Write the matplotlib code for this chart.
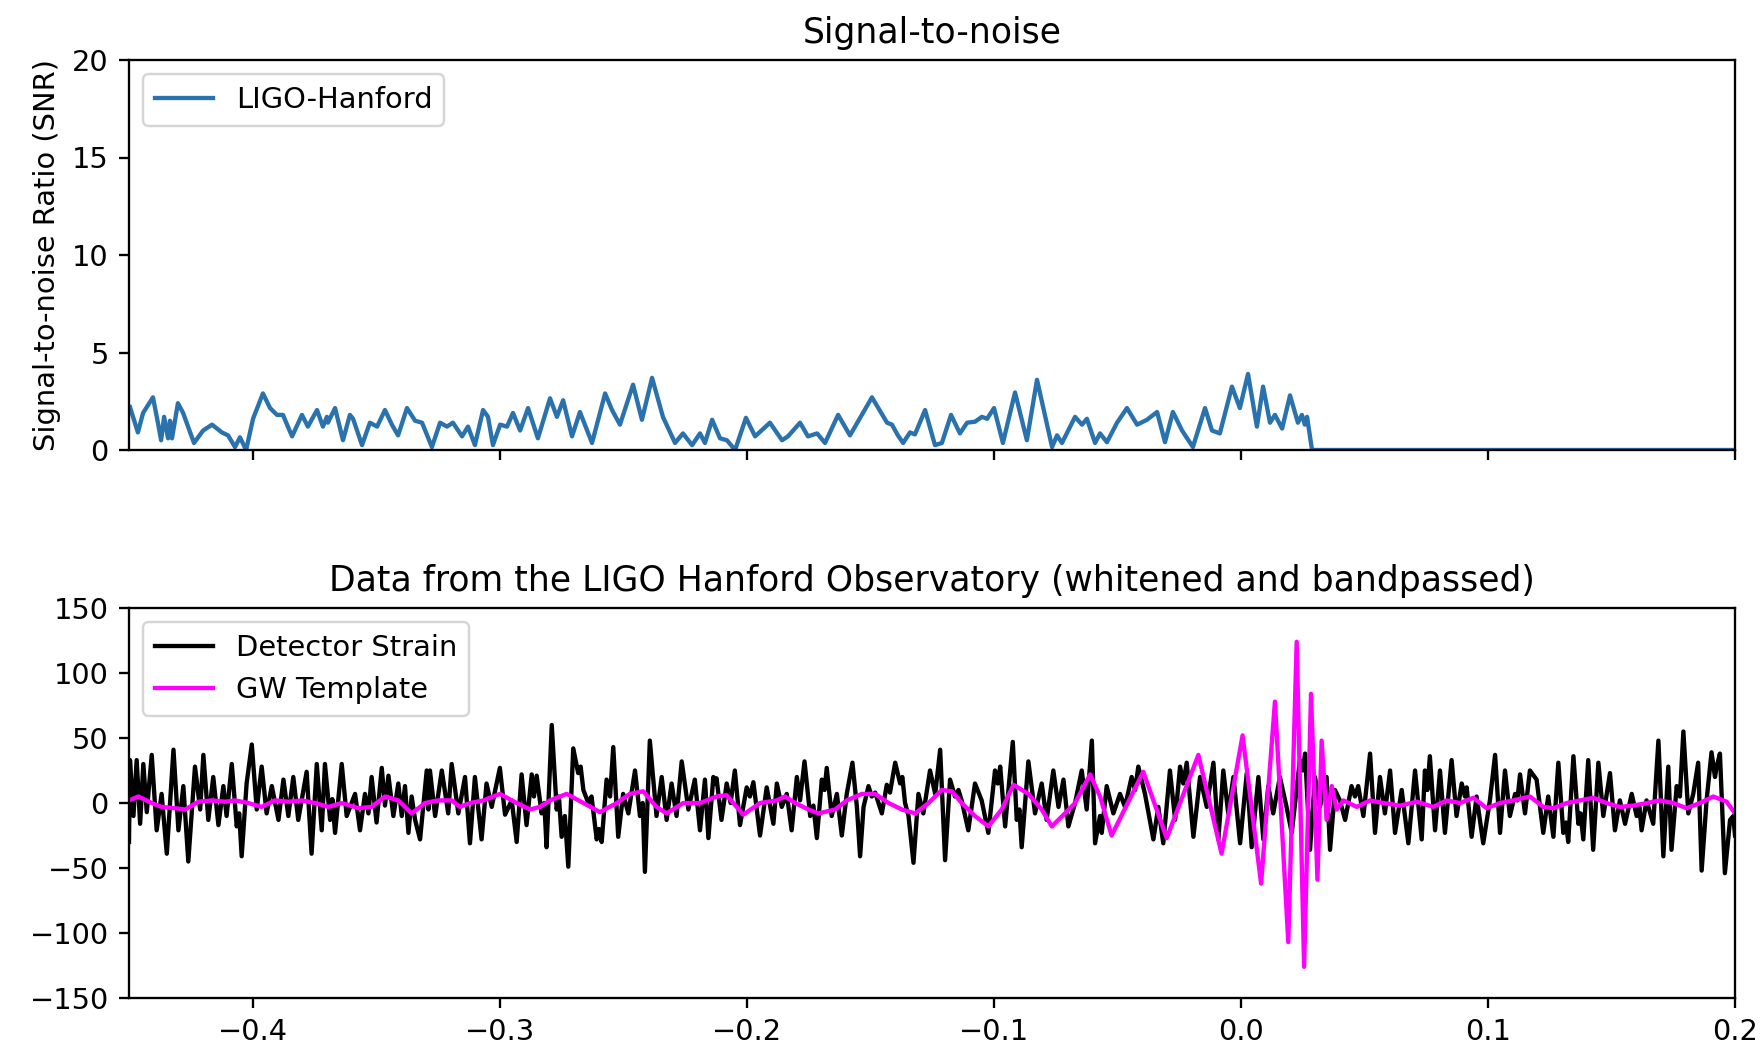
import numpy as np
import matplotlib
matplotlib.use("Agg")
import matplotlib.pyplot as plt

# ---------------- data (time in ms relative to event) ----------------
snr_t_ms = [-449.6, -446.4, -444.3, -440.3, -438.3, -437.0, -435.8, -434.2, -433.4, -432.6,
            -430.2, -428.1, -423.7, -420.0, -416.4, -412.4, -409.9, -407.1, -405.1, -402.6,
            -399.8, -395.8, -392.9, -390.1, -387.7, -384.0, -380.0, -377.6, -373.9, -371.5,
            -369.9, -369.5, -366.6, -363.4, -360.6, -359.3, -355.7, -352.5, -349.6, -346.4,
            -343.6, -341.1, -337.5, -334.2, -331.4, -327.4, -324.1, -321.3, -318.9, -315.2,
            -312.8, -310.0, -306.7, -304.7, -302.7, -299.8, -297.0, -294.6, -291.7,
            -288.5, -284.5, -279.6, -276.8, -274.3, -270.7, -267.5, -262.6, -257.3, -254.5,
            -251.3, -246.0, -242.4, -238.3, -233.9, -229.0, -225.8, -222.1, -218.9, -216.9,
            -214.0, -210.8, -208.0, -204.7, -200.3, -196.6, -190.6, -185.7, -183.3, -178.4,
            -175.2, -171.5, -168.3, -163.0, -158.2, -149.3, -143.2, -141.2, -138.8, -136.7,
            -133.9, -131.9,
            -127.8, -123.8, -121.0, -117.3, -113.7, -110.8, -107.6, -104.8, -102.7, -99.9,
            -96.3, -91.4, -86.6, -82.5, -76.4, -74.4, -72.4, -67.1, -64.3, -62.3,
            -59.0, -57.0, -54.2, -50.1, -46.1, -42.0, -38.0, -33.9, -30.7, -27.5,
            -23.8, -19.4, -14.5, -11.7, -8.5, -3.6, -0.4, 2.9, 6.5, 9.0,
            11.8, 13.8, 16.7, 19.9, 23.1, 24.7, 25.9, 26.8, 28.8, 200.0]
snr_vals = [2.2, 0.9, 1.9, 2.7, 1.4, 0.5, 1.7, 0.6, 1.5, 0.6,
            2.4, 1.9, 0.36, 1.0, 1.3, 0.9, 0.75, 0.15, 0.65, 0.0,
            1.6, 2.9, 2.15, 1.8, 1.8, 0.7, 1.8, 1.2, 2.05, 1.2,
            1.7, 1.4, 2.15, 0.5, 1.8, 1.6, 0.25, 1.4, 1.2, 2.05,
            1.3, 0.75, 2.15, 1.5, 1.4, 0.15, 1.4, 1.2, 1.4, 0.7,
            1.2, 0.25, 2.05, 1.7, 0.25, 1.3, 1.2, 1.9, 1.0,
            2.15, 0.6, 2.65, 1.7, 2.55, 0.7, 1.95, 0.36, 2.9, 2.05,
            1.3, 3.35, 1.55, 3.7, 1.7, 0.36, 0.85, 0.25, 0.85, 0.36,
            1.55, 0.6, 0.5, 0.0, 1.65, 0.7, 1.4, 0.5, 0.7, 1.4,
            0.7, 0.85, 0.36, 1.8, 0.75, 2.7, 1.4, 1.3, 0.75, 0.36,
            0.9, 0.8,
            2.05, 0.25, 0.36, 1.8, 0.85, 1.4, 1.45, 1.7, 1.6, 2.15,
            0.36, 2.95, 0.5, 3.6, 0.15, 0.75, 0.36, 1.7, 1.3, 1.6,
            0.36, 0.85, 0.4, 1.4, 2.15, 1.3, 1.55, 1.95, 0.4, 1.95,
            1.0, 0.15, 2.15, 1.0, 0.85, 3.25, 2.15, 3.9, 1.2, 3.25,
            1.4, 1.8, 1.1, 2.8, 1.4, 1.8, 1.3, 1.7, 0.0, 0.0]

strain_t_ms = [-450.0,
    -449.6, -448.2, -446.9, -445.5, -444.2, -442.8, -440.8, -438.8, -436.8, -434.7,
    -432.0, -430.0, -428.0, -426.0, -423.3, -421.2, -419.9, -417.9, -415.9, -413.8,
    -411.8, -410.5, -408.4, -406.4, -405.4, -404.4, -402.4, -400.3, -398.3, -396.3,
    -394.3, -392.2, -389.5, -387.5, -385.5, -383.5, -381.5, -378.1, -376.1, -374.0,
    -372.0, -370.7, -368.6, -367.7, -366.6, -363.9, -361.9, -358.5, -356.5, -354.5,
    -353.1, -351.8, -349.8, -347.7, -346.4, -345.0, -343.0, -341.0, -339.6, -338.3,
    -336.9, -335.6, -334.2, -332.2, -329.5, -328.8, -328.2, -326.1, -323.4, -320.8,
    -319.4, -316.7, -314.0, -312.0, -310.0, -307.3, -305.3, -303.2, -299.9, -297.8,
    -295.1, -293.1, -291.1, -289.1, -287.0, -286.1, -285.0, -283.0, -281.9, -281.0,
    -278.9, -276.9, -276.0, -274.9, -273.6, -272.2, -270.2, -268.2, -267.2, -266.1,
    -264.1, -262.8, -260.7, -259.8, -258.7, -256.7, -255.3, -254.0, -252.0, -250.0,
    -247.9, -245.2, -243.2, -242.1, -241.2, -239.2, -236.5, -234.4, -232.4, -230.4,
    -228.4, -226.3, -223.6, -221.0, -218.9, -216.9, -215.5, -213.5, -212.8, -212.2,
    -210.2, -208.1, -206.5, -204.8, -202.7, -200.0, -198.7, -197.3, -194.6, -191.9,
    -189.2,
    -187.8, -185.8, -183.8, -181.8, -179.7, -178.4, -176.6, -174.3, -173.0, -171.6,
    -169.6, -168.5, -167.6, -165.6, -163.5, -161.5, -159.5, -157.2, -155.4, -154.1,
    -152.7, -150.7, -149.4, -148.0, -145.3, -143.3, -142.0, -139.9, -137.9, -137.0,
    -135.9, -134.5, -132.5, -130.5, -128.5, -125.8, -123.7, -121.7, -119.7, -117.7,
    -115.7, -114.3, -113.0, -110.3, -107.6, -104.9, -102.2, -99.5, -98.4, -97.4,
    -95.4, -92.3, -90.7, -89.6, -88.7, -86.0, -83.3, -80.6, -78.6, -75.9,
    -73.8, -71.8, -69.8, -67.1, -64.4, -62.4, -60.3, -59.0, -57.0,
    -56.3, -54.3, -51.6, -48.9, -46.9, -44.2, -42.8, -41.5, -38.8, -35.4,
    -33.4, -31.4, -28.7, -26.6, -24.6, -23.3, -21.9, -19.2, -16.5, -13.8,
    -11.1, -9.1, -7.1, -5.1, -3.0, -0.3, 2.4, 4.4, 7.1, 9.1,
    11.1, 13.1, 15.8, 18.5, 20.6, 23.9, 25.0, 26.0, 28.0, 30.0,
    32.0, 34.7, 36.1, 38.1, 40.1, 42.2, 44.8, 46.2, 47.5, 49.6,
    52.3, 54.3, 56.3, 58.3, 60.4, 62.4, 65.1, 67.8, 70.5,
    73.2, 74.5, 75.5, 76.5, 78.6, 80.6, 82.6, 85.3, 87.3, 89.4,
    90.7, 91.4, 93.4, 95.4, 98.1, 100.8, 102.9, 104.9, 106.9, 108.9,
    111.0, 111.9, 113.0, 115.0, 117.0, 119.7, 122.4, 124.4, 126.5, 128.5,
    130.5, 131.6, 132.5, 134.6, 136.6, 137.5, 138.6, 140.6, 142.6, 144.7,
    146.7, 149.4, 151.4, 153.4, 155.5, 158.2, 160.2, 161.3, 162.2, 164.2,
    166.9, 169.0, 171.0, 173.0, 174.3, 176.4, 177.7, 179.1, 181.1, 183.1,
    185.1, 186.5, 188.5, 190.5, 191.9, 192.6, 193.9, 195.9, 198.0, 199.3,
    200.0]
strain_vals = [-30,
    33, -10, 33, -16, 30, -7, 37, -21, 7, -39,
    41, -21, 13, -45, 28, -5, 37, -13, 20, -17,
    13, -10, 30, -18, -8, -41, 15, 45, -5, 28,
    -8, 13, -13, 18, -10, 20, -13, 24, -39, 30,
    -21, 30, -13, 3, -23, 30, -10, 7, -21, 7,
    -8, 20, -15, 27, -2, 21, -10, 15, -10, 13,
    -23, 5, -13, -28, 25, -5, 25, -10, 25, -8,
    30, -8, 20, -31, 20, -28, 15, -3, 27, -9,
    2, -30, 22, -17, 22, 5, 21, -8, 0, -34,
    60, -5, 5, -26, -10, -49, 42, 23, 28, 10,
    0, 5, -28, -20, -30, 18, 5, 43, -26, 7,
    -8, 25, -10, 0, -53, 48, -10, 20, -13, 15,
    -10, 32, -5, 18, -21, 18, -27, 20, 15, 19,
    -13, 15, 0, 25, -17, 12, 5, 16, -25, 12,
    -16,
    15, -3, 7, -21, 20, 2, 32, -10, -2, -27,
    18, 10, 27, -10, 7, -25, 7, 31, -3, -41,
    -3, 13, 5, 8, -8, 14, 8, 31, 15, 20,
    0, -10, -46, 7, -8, 25, 7, 41, -44, 18,
    5, 10, 2, -21, 15, 2, -23, 25, 15, 28,
    -18, 47, -13, -5, -34, 32, -8, 15, -13, 25,
    -3, 18, -18, 0, 25, -5, 48, -31, -10,
    -23, 13, -8, 7, -3, 20, 10, 28, 7, -28,
    -3, -31, 25, -13, 28, 15, 31, -26, 20, -3,
    31, -28, 25, -8, 20, -31, 23, -34, 20, -28,
    13, -8, 20, -3, -23, 33, 25, 38, -36, 20,
    -3, 20, -36, 10, 2, -13, 13, 5, 13, -10,
    38, -23, 20, -8, 25, -23, 10, -31, 25,
    -28, 25, 10, 36, -21, 25, -23, 33, -10, 15,
    5, 12, -26, 5, -31, 2, 37, -23, 25, -10,
    7, 2, 22, -8, 25, 18, -23, 5, -26, 31,
    -23, -15, -30, 36, -16, -8, -28, 33, -36, 31,
    -10, 23, -21, 2, -16, 7, -10, -3, -21, 2,
    -16, 48, -41, 28, -36, 13, 5, 55, -8, 7,
    31, -52, 2, 39, 20, 28, 38, -54, -13, -10,
    -25]

template_t_ms = [-450.0, -446.2, -440.8, -436.8, -431.4, -427.3, -421.9, -416.5, -411.1, -407.1,
    -401.7, -396.3, -390.9, -385.5, -380.1, -374.7, -369.3, -363.9, -357.2, -351.8,
    -346.4, -341.0, -335.6, -330.2, -324.8, -319.4, -316.1, -312.0, -306.6, -299.9,
    -293.1, -287.7, -283.7, -279.6, -272.9, -266.1, -259.4, -252.6, -247.3, -241.9,
    -236.5, -232.4, -225.7, -218.9, -212.2, -208.1, -201.4, -194.6, -187.9, -184.5,
    -180.4, -175.0, -171.0, -164.2, -159.5, -153.4, -148.0, -142.6, -137.2, -131.8,
    -126.4, -121.0, -117.0, -113.0, -107.6, -102.2, -96.8, -92.0, -86.0, -80.6,
    -76.5, -71.2, -67.1, -61.0, -57.0, -52.3, -39.5, -30.0, -17.2, -7.8,
    0.7, 8.2, 13.8, 19.2, 22.6, 25.6, 28.4, 31.0, 32.7, 34.7,
    36.8, 38.8, 41.5, 46.9, 52.3, 57.7, 64.4, 71.2, 77.9, 83.3,
    88.7, 94.1, 99.5, 104.9, 110.3, 117.0, 122.4, 126.5, 131.9, 137.3,
    142.7, 148.0, 153.4, 158.8, 164.2, 169.6, 175.0, 180.4, 185.8, 191.2,
    196.6, 200.0]
template_vals = [2, 5, 0, -3, -4, -5, 1, 2, 1, 2,
    0, -3, 2, 1, 2, 0, -3, 0, -4, -3,
    5, 2, -8, 0, 2, 2, -3, 0, 2, 7,
    0, -5, -3, 2, 7, 0, -7, 0, 7, 9,
    -3, -8, 0, 0, 5, 6, -9, 0, 2, 5,
    0, -5, -8, -5, 2, 7, 7, 0, -5, -8,
    0, 10, 9, 0, -10, -18, -5, 14, 7, -5,
    -18, -8, 0, 22, 5, -25, 24, -27, 37, -39,
    52, -62, 78, -107, 124, -126, 84, -59, 48, -13,
    13, -5, 2, -3, 2, 0, -2, 1, -3, 2,
    0, 4, -4, 0, 2, 5, -3, -4, 0, 2,
    4, 0, -3, -2, 0, 2, 0, -4, 0, 5,
    1, -8]

x_ticks = [-0.4, -0.3, -0.2, -0.1, 0.0, 0.1, 0.2]
snr_yticks = [0, 5, 10, 15, 20]
strain_yticks = [-150, -100, -50, 0, 50, 100, 150]

# ---------------- style ----------------
S = 1.18
plt.rcParams.update({
    'font.size': 10 * S,
    'axes.linewidth': 0.8 * S,
    'xtick.major.size': 3.5 * S,
    'ytick.major.size': 3.5 * S,
    'xtick.major.width': 0.8 * S,
    'ytick.major.width': 0.8 * S,
    'xtick.major.pad': 3.5 * S,
    'ytick.major.pad': 3.5 * S,
    'axes.titlepad': 6.0 * S,
    'axes.labelpad': 4.0 * S,
})

# ---------------- plotting ----------------
W, H, DPI = 1761, 1045, 176.1
fig = plt.figure(figsize=(W / DPI, H / DPI), dpi=DPI)

L, R = 129 / W, 1735 / W
ax1 = fig.add_axes([L, 1 - 450 / H, R - L, (450 - 60) / H])
ax2 = fig.add_axes([L, 1 - 998 / H, R - L, (998 - 608) / H])

lw = 1.5 * S
ax1.plot(np.array(snr_t_ms) / 1000.0, snr_vals, color='#2a72ad', lw=lw, label='LIGO-Hanford')
ax1.set_xlim(-0.45, 0.2)
ax1.set_ylim(0, 20)
ax1.set_xticks(x_ticks)
ax1.set_yticks(snr_yticks)
ax1.tick_params(labelbottom=False)
ax1.set_ylabel('Signal-to-noise Ratio (SNR)')
ax1.set_title('Signal-to-noise')
ax1.legend(loc='upper left')

ax2.plot(np.array(strain_t_ms) / 1000.0, strain_vals, color='k', lw=lw, label='Detector Strain')
ax2.plot(np.array(template_t_ms) / 1000.0, template_vals, color='magenta', lw=lw, label='GW Template')
ax2.set_xlim(-0.45, 0.2)
ax2.set_ylim(-150, 150)
ax2.set_xticks(x_ticks)
ax2.set_yticks(strain_yticks)
ax2.set_title('Data from the LIGO Hanford Observatory (whitened and bandpassed)')
ax2.legend(loc='upper left')

fig.savefig('out.png', dpi=DPI)
